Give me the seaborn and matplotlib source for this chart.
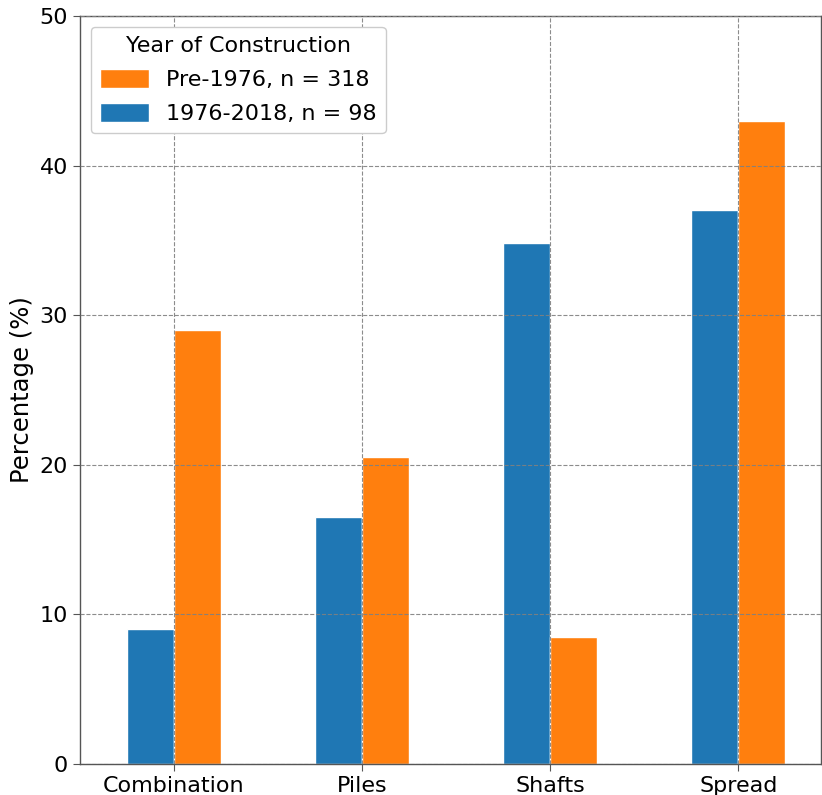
import pandas as pd
import numpy as np
import matplotlib
matplotlib.use('Agg')
import matplotlib.pyplot as plt
import seaborn as sns

# ---------- dados ----------
categorias = ['Combination', 'Piles', 'Shafts', 'Spread']
pct_pre1976 = [29.0, 20.5, 8.5, 43.0]
pct_1976_2018 = [9.0, 16.5, 34.8, 37.0]
label_pre = 'Pre-1976, n = 318'
label_pos = '1976-2018, n = 98'

df = pd.DataFrame({
    'Tipo': categorias * 2,
    'Pct': pct_1976_2018 + pct_pre1976,
    'Ano': [label_pos] * 4 + [label_pre] * 4,
})

sns.set_style('white')
plt.rcParams['font.family'] = ['DejaVu Sans']
plt.rcParams['text.color'] = 'black'
plt.rcParams['axes.labelcolor'] = 'black'
plt.rcParams['xtick.color'] = 'black'
plt.rcParams['ytick.color'] = 'black'

fig = plt.figure(figsize=(8.22, 7.95), dpi=100)
ax = fig.add_axes([0.097, 0.039, 0.902, 0.941])

sns.barplot(data=df, x='Tipo', y='Pct', hue='Ano',
            hue_order=[label_pos, label_pre],
            palette=['#1f77b4', '#ff7f0e'], width=0.5,
            saturation=1, ax=ax)

ax.set_ylim(0, 50)
ax.set_xlim(-0.5, 3.44)
ax.set_yticks(range(0, 51, 10))
ax.set_xlabel('')
ax.set_ylabel('Percentage (%)', fontsize=17.5)
ax.tick_params(axis='both', labelsize=16, length=5, color='#555555',
               labelcolor='black')
ax.tick_params(axis='x', bottom=True)
ax.tick_params(axis='y', left=True)
for s in ax.spines.values():
    s.set_color('#555555')
    s.set_linewidth(1)

ax.set_axisbelow(False)
ax.grid(True, color='grey', linestyle='--', linewidth=0.8, alpha=0.9)

handles, labels = ax.get_legend_handles_labels()
leg = ax.legend(handles[::-1], labels[::-1], title='Year of Construction',
                loc='upper left', fontsize=16, title_fontsize=16,
                framealpha=1, handlelength=2.2, handleheight=0.9,
                labelspacing=0.6)
leg.get_title().set_color('black')
for t in leg.get_texts():
    t.set_color('black')

plt.savefig('out.png', dpi=100)
plt.close()
